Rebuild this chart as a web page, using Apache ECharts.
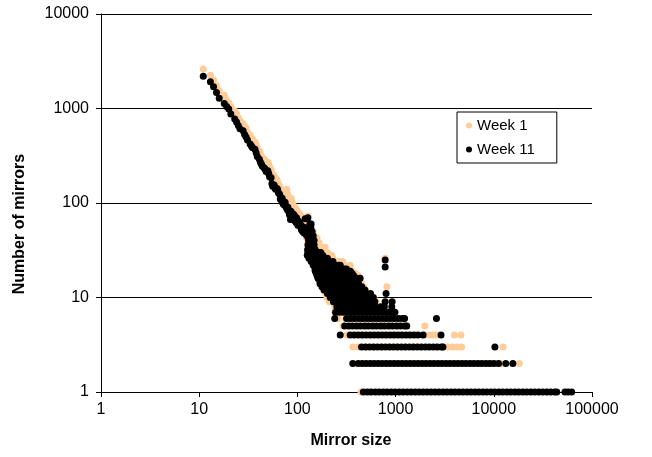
<!DOCTYPE html>
<html>
<head>
<meta charset="utf-8">
<script src="https://cdn.jsdelivr.net/npm/echarts@6/dist/echarts.min.js"></script>
<style>html,body{margin:0;padding:0;background:#fff}#c{width:652px;height:457px}</style>
</head>
<body>
<div id="c"></div>
<script>
// ---------- data (mirror size, number of mirrors) ----------
const xTicks = [1, 10, 100, 1000, 10000, 100000];
const yTicks = [1, 10, 100, 1000, 10000];
const seriesNames = ['Week 1', 'Week 11'];

// Week 1: upper diagonal part [size, count]
const week1Upper = [[11,2620],[13,2250],[14,2000],[15,1750],[16,1540],[18,1380],[19,1220],[20,1150],[21,1050],[23,940],[24,880],[25,800],[26,740],[28,690],[29,650],[30,620],[31,560],[33,520],[34,490],[35,470],[37,440],[38,410],[39,380],[41,355],[42,330],[43,315],[44,300],[46,290],[47,275],[48,262],[50,270],[51,255],[52,240],[54,225],[55,205],[56,190],[58,195],[59,180],[60,172],[62,176],[63,165],[64,158],[66,150],[67,140],[68,135],[70,138],[71,128],[72,120],[74,118],[75,125],[76,115],[78,140],[79,125],[80,120],[82,115],[83,110],[85,106],[86,112],[87,106],[89,100],[90,95],[93,92],[95,88],[98,85],[101,80],[104,78],[106,76],[109,72],[112,70],[115,68],[117,66],[120,62],[123,60],[126,64],[128,73],[131,58]];
// Week 1: dense cluster, [count, sizes]
const week1Cluster = [
 [58,[117,124,131]],[50,[120,127,135,145]],[43,[124,132,140,149,158]],[38,[128,137,147,156,166]],
 [34,[131,141,151,162,173,191]],[30,[134,144,155,166,178,191,202]],[28,[138,148,159,171,184,198,212,223]],
 [26,[145,156,168,181,198,216,230,783]],[24,[148,160,173,188,205,223,243,265,288]],
 [22,[152,165,180,196,214,233,254,277,302,344]],[20,[156,170,185,201,219,238,259,282,308,346]],
 [19,[159,173,188,205,224,244,266,290,316,361]],[18,[162,176,192,209,228,249,271,296,323,355,390]],
 [17,[166,181,197,215,234,255,278,303,331,360,417]],[16,[170,185,202,220,240,262,286,312,340,371,420]],
 [15,[173,189,206,225,245,267,291,317,346,377,435]],[14,[177,193,211,230,251,274,299,326,356,388,450]],
 [13,[184,200,218,238,260,284,310,338,369,403,470,814]],[12,[184,200,218,238,260,284,310,338,369,403,440,495]],
 [11,[195,213,233,254,277,302,330,360,393,430,470,540]],[10,[200,218,238,260,284,310,338,369,403,440,480,524,600]],
 [9,[211,230,251,274,299,326,356,389,425,464,507,553,630]],[8,[240,262,286,312,341,372,406,443,484,528,577,676]],
 [7,[240,262,286,312,341,372,406,443,484,528,577,630,690,814]]
];
const week1Count6 = [259,311,373,448,537,645,774,929,1100,1219];
const week1Count5 = [292,350,420,504,605,726,871,1045,1298,1985];
const week1Count4 = [317,380,456,548,657,789,946,1136,1363,1636,1963,2229,2420,2621,3970,4630];
const week1Count3 = [368,417,500,600,720,864,1037,1244,1493,1792,2150,2580,3096,3400,3800,4250,4697,12440];
const week1Count2 = [391,469,563,676,811,973,1168,1401,1682,2018,2422,2906,3487,4185,5022,6026,7231,8678,10413,11750,18160];
const week1Count1 = [444,533,640,768,921,1106,1327,1592,1910,2292,2751,3301,3961,4753,5704,6845,8214,9857,11828,14194,17032,20439,24527,29432,35318,37440];

// Week 11
const week11Upper = [[11,2190],[13,1920],[14,1700],[15,1480],[16,1280],[18,1130],[19,1050],[20,990],[21,875],[23,775],[24,720],[25,660],[26,610],[28,580],[29,530],[30,500],[31,465],[33,420],[34,400],[35,385],[37,370],[38,340],[39,310],[41,290],[42,270],[43,258],[44,245],[46,235],[47,228],[48,215],[50,220],[51,205],[52,190],[54,185],[55,160],[56,150],[58,155],[59,145],[60,140],[62,142],[63,138],[64,128],[66,124],[67,110],[68,108],[70,112],[71,100],[72,97],[74,95],[75,102],[76,92],[78,88],[79,85],[80,90],[82,80],[83,75],[85,67],[86,82],[87,78],[89,72],[90,76],[91,76],[93,74],[94,65],[95,70],[97,62],[98,70],[100,66],[101,58],[102,64],[104,60],[105,62],[106,60],[108,55],[109,58],[110,52],[112,56],[113,50],[115,51],[116,54],[117,48],[119,55],[120,68],[122,50],[123,46],[124,52],[126,28],[127,44],[128,70],[130,40],[131,45],[783,25],[783,21]];
const week11Cluster = [
 [60,[134,138]],[55,[137]],[50,[135,141]],[45,[132,139,145]],[40,[137,142,148]],[36,[128,134,141,148]],
 [34,[131,138,145]],[32,[127,135,144,152]],[30,[128,137,145,154,164,173]],[28,[131,140,149,159,169,181]],
 [26,[131,141,151,162,173,187,202]],[24,[138,148,159,170,182,196,211,230]],
 [22,[145,156,167,179,192,207,224,242,263,273]],[21,[159,176,202,233,259]],
 [20,[151,163,175,188,203,219,237,256,278,300,316]],[19,[152,166,181,198,217,237,260,285,313,346]],
 [18,[156,172,188,205,224,245,268,293,322,361]],[17,[159,174,190,208,228,250,274,300,330,365,375]],
 [16,[162,177,193,211,231,253,277,303,332,365,400,435]],[15,[169,185,202,221,242,265,290,318,348,390,405]],
 [14,[170,186,204,223,244,267,292,320,350,383,420]],[13,[178,195,213,233,255,279,306,335,367,402,453]],
 [12,[187,205,224,245,268,293,321,351,384,420,460,487]],[11,[202,221,242,265,290,318,348,381,417,456,499,555,800]],
 [10,[216,236,258,282,309,338,370,405,443,485,530,593]],[9,[233,255,279,305,334,365,400,437,478,523,572,615,783,922]],
 [8,[252,276,302,330,361,395,432,473,517,566,619,707,768,914]],
 [7,[245,268,293,321,351,384,420,460,503,550,602,659,721,790,864,922,984]]
];
const week11Count6 = [240,317,348,382,420,461,506,556,610,670,736,808,887,974,1070,1175,1235,2606];
const week11Count5 = [303,333,365,401,441,484,531,583,641,703,772,848,931,1023,1123,1233,1298];
const week11Count4 = [273,345,379,416,457,501,551,605,664,729,800,879,965,1059,1163,1277,1402,1540,1690,1905,2902];
const week11Count3 = [450,494,543,596,654,718,789,866,951,1044,1146,1259,1382,1517,1666,1829,2008,2205,2421,2658,2919,3034,10262];
const week11Count2 = [366,417,458,503,552,606,665,730,802,880,967,1061,1165,1280,1405,1543,1694,1860,2042,2242,2462,2703,2968,3259,3578,3929,4314,4737,5201,5711,6270,6885,7559,8300,9114,10007,11175,13245,15630];
const week11Count1 = [469,515,565,621,682,748,822,902,991,1088,1194,1311,1440,1581,1736,1906,2093,2298,2523,2770,3042,3340,3667,4026,4421,4854,5330,5852,6425,7055,7746,8505,9339,10254,11259,12362,13573,14903,16363,17967,19728,21661,23784,26114,28673,31483,34568,37956,41676,43760,53030,57130,62040];

// ---------- build ----------
function build(upper, cluster, rows) {
  const out = upper.slice();
  cluster.forEach(([count, sizes]) => sizes.forEach(s => out.push([s, count])));
  rows.forEach(([count, sizes]) => sizes.forEach(s => out.push([s, count])));
  return out;
}
const week1Data = build(week1Upper, week1Cluster,
  [[6,week1Count6],[5,week1Count5],[4,week1Count4],[3,week1Count3],[2,week1Count2],[1,week1Count1]]);
const week11Data = build(week11Upper, week11Cluster,
  [[6,week11Count6],[5,week11Count5],[4,week11Count4],[3,week11Count3],[2,week11Count2],[1,week11Count1]]);

const FONT = '"Liberation Sans", Arial, sans-serif';
const chart = echarts.init(document.getElementById('c'), null, {renderer: 'canvas'});
const fmt = v => String(Math.round(v));
chart.setOption({
  animation: false,
  backgroundColor: '#fff',
  grid: {left: 101, right: 60, top: 14, bottom: 65, containLabel: false},
  xAxis: {
    type: 'log', logBase: 10, min: xTicks[0], max: xTicks[xTicks.length - 1],
    axisLine: {lineStyle: {color: '#000', width: 1}},
    axisTick: {show: true, inside: false, length: 5, lineStyle: {color: '#000'}},
    axisLabel: {formatter: fmt, fontFamily: FONT, fontSize: 16, color: '#000', margin: 10},
    splitLine: {show: false}, minorTick: {show: false}
  },
  yAxis: {
    type: 'log', logBase: 10, min: yTicks[0], max: yTicks[yTicks.length - 1],
    axisLine: {show: true, lineStyle: {color: '#000', width: 1}},
    axisTick: {show: true, inside: false, length: 5, lineStyle: {color: '#000'}},
    axisLabel: {formatter: fmt, fontFamily: FONT, fontSize: 16, color: '#000', margin: 12},
    splitLine: {show: true, lineStyle: {color: '#000', width: 1}}
  },
  legend: {
    orient: 'vertical', left: 457, top: 112,
    data: seriesNames.map(n => ({name: n, icon: 'circle'})),
    itemWidth: 6, itemHeight: 6, itemGap: 9,
    padding: [6, 22, 6, 9],
    borderColor: '#000', borderWidth: 1, backgroundColor: '#fff',
    textStyle: {fontFamily: FONT, fontSize: 15, color: '#000'}
  },
  graphic: [{
    type: 'text', x: 20, y: 224, rotation: Math.PI / 2,
    style: {text: 'Number of mirrors', fontFamily: FONT, fontSize: 16, fontWeight: 'bold', fill: '#000',
            textAlign: 'center', textVerticalAlign: 'middle'}
  }, {
    type: 'text', x: 351, y: 441,
    style: {text: 'Mirror size', fontFamily: FONT, fontSize: 16, fontWeight: 'bold', fill: '#000',
            textAlign: 'center', textVerticalAlign: 'middle'}
  }],
  series: [
    {name: seriesNames[0], type: 'scatter', symbol: 'circle', symbolSize: 7,
     itemStyle: {color: '#FFCC99', opacity: 1}, data: week1Data, z: 2},
    {name: seriesNames[1], type: 'scatter', symbol: 'circle', symbolSize: 7,
     itemStyle: {color: '#000000', opacity: 1}, data: week11Data, z: 3}
  ]
});
</script>
</body>
</html>
